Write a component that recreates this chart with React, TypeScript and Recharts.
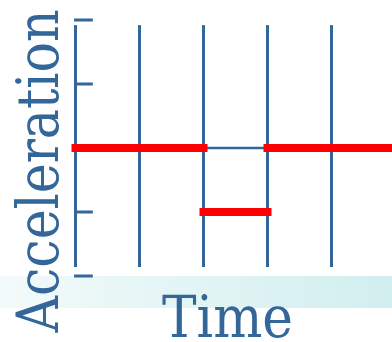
import React from 'react';
import { ComposedChart, XAxis, YAxis, ReferenceLine, ReferenceArea, Label } from 'recharts';

// time markers (vertical lines) and their vertical extent
const timeMarks = [0, 1, 2, 3, 4];
const markTop = 1.92;
const markBottom = -1.86;

// y ticks (short marks pointing into the plot)
const yTicks = [-2, -1, 0, 1, 2];
const tickLen = 0.27;

// piecewise-constant acceleration: start, end, value
const segStart = [0, 2, 3];
const segEnd = [2, 3, 5];
const accel = [0, -1, 0];

const BLUE = '#336699';
const RED = '#ff0000';
const FONT = "'DejaVu Serif Condensed', 'DejaVu Serif', serif";

const data = segStart.map((s, i) => ({ t: s, a: accel[i] }));

const TimeTitle = (props: any) => {
  const vb = props.viewBox;
  return (
    <text
      x={vb.x + 152}
      y={vb.y + 61}
      textAnchor="middle"
      fill={BLUE}
      fontFamily={FONT}
      fontSize={58}
      textLength={131}
      lengthAdjust="spacingAndGlyphs"
    >
      Time
    </text>
  );
};

const AccelTitle = (props: any) => {
  const vb = props.viewBox;
  const x = vb.x - 17.5;
  const y = vb.y + 151;
  return (
    <text
      x={x}
      y={y}
      transform={`rotate(-90, ${x}, ${y})`}
      textAnchor="middle"
      fill={BLUE}
      fontFamily={FONT}
      fontSize={58}
      textLength={323}
      lengthAdjust="spacingAndGlyphs"
    >
      Acceleration
    </text>
  );
};

const App: React.FC = () => {
  return (
    <div style={{ position: 'absolute', left: 0, top: 0, width: 392, height: 342, background: '#fff' }}>
      <ComposedChart width={392} height={342} data={data} margin={{ top: 20, right: -3.5, left: 75.5, bottom: 0 }}>
        <defs>
          <linearGradient id="band" x1="0" y1="0" x2="1" y2="0">
            <stop offset="0" stopColor="#f3fafa" />
            <stop offset="1" stopColor="#d1eeee" />
          </linearGradient>
        </defs>
        <XAxis dataKey="t" type="number" domain={[0, 5]} allowDataOverflow height={66} axisLine={false} tickLine={false} tick={false}>
          <Label content={TimeTitle} />
        </XAxis>
        <YAxis type="number" domain={[-2, 2]} ticks={yTicks} allowDataOverflow mirror axisLine={false} tick={false} tickLine={false}>
          <Label content={AccelTitle} />
        </YAxis>
        <ReferenceArea x1={-1.18} x2={5} y1={-2} y2={-2.5} ifOverflow="visible" fill="url(#band)" fillOpacity={1} stroke="none" />
        {timeMarks.map((t) => (
          <ReferenceLine
            key={`m${t}`}
            segment={[{ x: t, y: markBottom }, { x: t, y: markTop }]}
            stroke={BLUE}
            strokeWidth={3}
            ifOverflow="visible"
          />
        ))}
        {yTicks.map((v) => (
          <ReferenceLine
            key={`k${v}`}
            segment={[{ x: -0.023, y: v }, { x: tickLen, y: v }]}
            stroke={BLUE}
            strokeWidth={3}
            ifOverflow="visible"
          />
        ))}
        <ReferenceLine segment={[{ x: 0, y: 0 }, { x: 5, y: 0 }]} stroke={BLUE} strokeWidth={2.5} ifOverflow="visible" />
        {segStart.map((s, i) => (
          <ReferenceLine
            key={`s${i}`}
            segment={[{ x: s, y: accel[i] }, { x: segEnd[i], y: accel[i] }]}
            stroke={RED}
            strokeWidth={8}
            strokeLinecap="square"
            ifOverflow="visible"
          />
        ))}
      </ComposedChart>
    </div>
  );
};

export default App;
